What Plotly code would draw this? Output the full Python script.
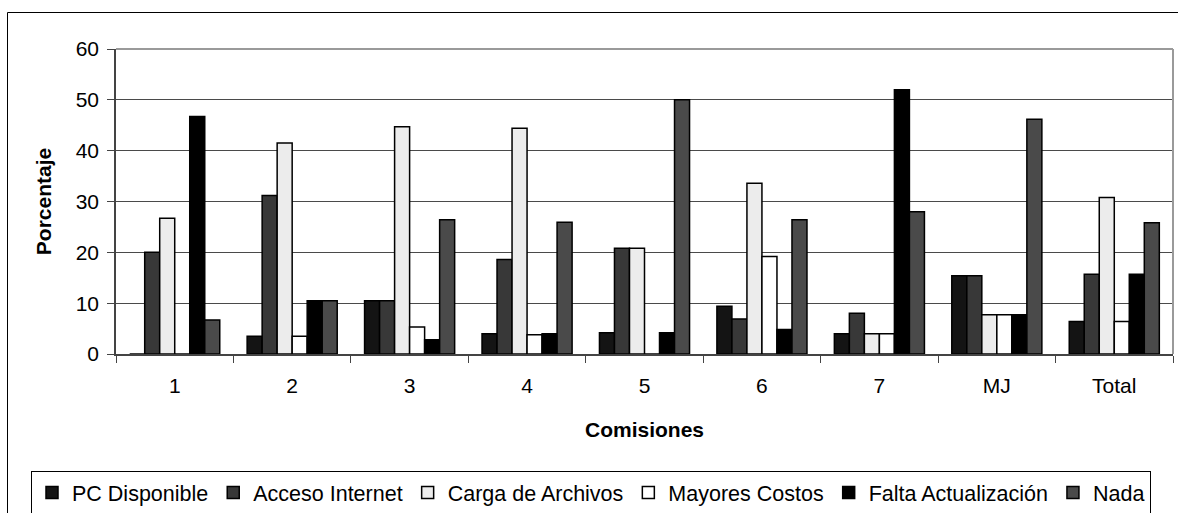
import plotly.graph_objects as go

categories = ["1", "2", "3", "4", "5", "6", "7", "MJ", "Total"]

pc_disponible = [0, 3.5, 10.5, 4.0, 4.2, 9.4, 4.0, 15.4, 6.4]
acceso_internet = [20.0, 31.2, 10.5, 18.6, 20.8, 6.9, 8.0, 15.4, 15.7]
carga_archivos = [26.7, 41.5, 44.7, 44.4, 20.8, 33.6, 4.0, 7.7, 30.8]
mayores_costos = [0, 3.5, 5.3, 3.8, 0, 19.2, 4.0, 7.7, 6.4]
falta_actualizacion = [46.7, 10.5, 2.8, 4.0, 4.2, 4.8, 52.0, 7.7, 15.7]
nada = [6.7, 10.5, 26.4, 25.9, 50.0, 26.4, 28.0, 46.2, 25.8]

series = [
    ("PC Disponible", pc_disponible, "#141414"),
    ("Acceso Internet", acceso_internet, "#383838"),
    ("Carga de Archivos", carga_archivos, "#ececec"),
    ("Mayores Costos", mayores_costos, "#ffffff"),
    ("Falta Actualización", falta_actualizacion, "#000000"),
    ("Nada", nada, "#4a4a4a"),
]

FONT = "Liberation Sans, Arial, sans-serif"

fig = go.Figure()
for name, vals, color in series:
    fig.add_trace(go.Bar(
        x=categories, y=vals, name=name,
        marker=dict(color=color, line=dict(color="#000000", width=1.5)),
    ))

W, H = 1178, 513
L, R, T, B = 116, 5, 49, 159
pw = W - L - R
ph = H - T - B

def px_x(x):
    return (x - L) / pw

def px_y(y):
    return (H - B - y) / ph

fig.update_layout(
    width=W, height=H,
    margin=dict(l=L, r=R, t=T, b=B, autoexpand=False),
    paper_bgcolor="white", plot_bgcolor="white",
    barmode="group", bargap=0.233, bargroupgap=0,
    font=dict(family=FONT, size=21, color="#000000"),
    showlegend=True,
    legend=dict(
        orientation="h",
        x=px_x(31), y=px_y(471), xanchor="left", yanchor="top",
        bordercolor="#000000", borderwidth=1,
        font=dict(family=FONT, size=21.5, color="#000000"),
        itemwidth=30, traceorder="normal",
        tracegroupgap=0,
    ),
    xaxis=dict(
        type="category",
        showgrid=False,
        showline=True, linecolor="#444444", linewidth=1.5,
        ticks="outside", ticklen=7, tickcolor="#444444",
        tickson="boundaries",
        ticklabelstandoff=12,
        tickfont=dict(family=FONT, size=21),
        title=dict(text="<b>Comisiones</b>", font=dict(family=FONT, size=21), standoff=26),
    ),
    yaxis=dict(
        range=[0, 60], tickvals=[0, 10, 20, 30, 40, 50, 60],
        showgrid=True, gridcolor="#4a4a4a", gridwidth=1,
        showline=True, linecolor="#444444", linewidth=1.5,
        ticks="outside", ticklen=7, tickcolor="#444444",
        ticklabelstandoff=4,
        tickfont=dict(family=FONT, size=21),
        zeroline=False,
        title=dict(text="<b>Porcentaje</b>", font=dict(family=FONT, size=21), standoff=18),
    ),
    shapes=[
        dict(type="line", xref="paper", yref="paper", x0=0, x1=1, y0=1, y1=1,
             line=dict(color="#9a9a9a", width=2), layer="above"),
        dict(type="line", xref="paper", yref="paper", x0=1, x1=1, y0=0, y1=1,
             line=dict(color="#9a9a9a", width=2), layer="above"),
        dict(type="rect", xref="paper", yref="paper",
             x0=px_x(7.5), x1=px_x(1200), y0=px_y(12.5), y1=px_y(600),
             line=dict(color="#000000", width=1), layer="below"),
    ],
)

fig.write_html("out.html", config={"displayModeBar": False},
               post_script="document.body.style.margin='0';")
